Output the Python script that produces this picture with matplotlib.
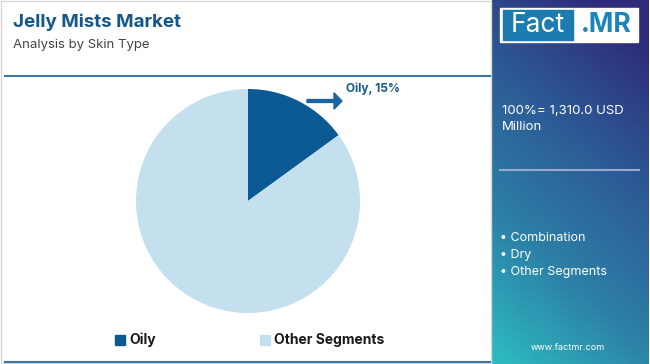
#!/usr/bin/env python
"""
Jelly Mists Market - share by skin type (pie) with Fact.MR side panel
"""

import numpy as np
import matplotlib.pyplot as plt
from matplotlib.colors import LinearSegmentedColormap
from matplotlib.patches import Rectangle, FancyArrow

plt.rcParams['font.family'] = ['Inter', 'DejaVu Sans']

# data
segments = ["Oily", "Other Segments"]
shares = [15, 85]
seg_colors = ["#0b5a94", "#c4e0ef"]
total_text = "100%= 1,310.0 USD\nMillion"
other_list = ["Combination", "Dry", "Other Segments"]

TITLE = "Jelly Mists Market"
SUBTITLE = "Analysis by Skin Type"
W, H = 650, 364


def fx(px):
    return px / W


def fy(py):
    return 1 - py / H


fig = plt.figure(figsize=(6.5, 3.64), dpi=100)
fig.patch.set_facecolor("white")

# left panel frame
fig.patches.append(Rectangle((fx(1), fy(363)), fx(490), 362 / H,
                             transform=fig.transFigure, fill=False,
                             edgecolor="#d8d8d8", linewidth=1))

# header
fig.text(fx(13), fy(22), TITLE, fontsize=13.5, fontweight="bold",
         color="#14588a", va="center")
fig.text(fx(13), fy(45), SUBTITLE, fontsize=9.5, color="#444444",
         va="center")
fig.lines.append(plt.Line2D([fx(5), fx(490)], [fy(76), fy(76)],
                            transform=fig.transFigure, color="#3a78a8",
                            linewidth=1.5))
fig.lines.append(plt.Line2D([fx(5), fx(490)], [fy(362), fy(362)],
                            transform=fig.transFigure, color="#3a78a8",
                            linewidth=1.5))

# pie
ax = fig.add_axes([fx(248 - 112), fy(201 + 112), 224 / W, 224 / H])
ax.pie(shares, colors=seg_colors, startangle=90, counterclock=False,
       radius=1.0)
ax.set_aspect("equal")
ax.set_xlim(-1.0, 1.0)
ax.set_ylim(-1.0, 1.0)
ax.axis("off")

# callout
fig.patches.append(FancyArrow(fx(307), fy(101), fx(27), 0,
                              width=0.008, head_width=0.045,
                              head_length=fx(8), length_includes_head=False,
                              transform=fig.transFigure, color="#1a64a0"))
fig.text(fx(346), fy(89), "{}, {}%".format(segments[0], shares[0]),
         fontsize=8.5, fontweight="bold", color="#14588a", va="center")

# legend
leg_x = [115, 260]
for x, name, c in zip(leg_x, segments, seg_colors):
    fig.patches.append(Rectangle((fx(x), fy(345)), fx(10), 10 / H,
                                 transform=fig.transFigure, color=c))
    fig.text(fx(x + 14), fy(340), name, fontsize=10, fontweight="bold",
             color="#1a1a1a", va="center")

# right gradient panel (teal bottom-left -> indigo top-right)
cmap = LinearSegmentedColormap.from_list(
    "fm", ["#2cbcc2", "#2d80a6", "#2c5a96", "#2e2c7a"])
gx, gy = np.meshgrid(np.linspace(0, 1, 100), np.linspace(0, 1, 200))
grad = np.clip(0.3 * gx + 0.8 * (1 - gy), 0, 1)
pax = fig.add_axes([fx(492), 0, fx(157), 1])
pax.imshow(grad, cmap=cmap, aspect="auto", origin="upper",
           extent=[0, 1, 0, 1])
pax.axis("off")

# logo
fig.patches.append(Rectangle((fx(500), fy(42)), fx(138), 34 / H,
                             transform=fig.transFigure, color="white",
                             zorder=5))
fig.patches.append(Rectangle((fx(503), fy(40)), fx(70), 30 / H,
                             transform=fig.transFigure, color="#1c7bb0",
                             zorder=6))
fig.text(fx(538), fy(25), "Fact", fontsize=19, color="white",
         ha="center", va="center", zorder=7)
fig.text(fx(606), fy(25), ".MR", fontsize=19, fontweight="bold",
         color="#1c86bc", ha="center", va="center", zorder=7)

fig.text(fx(502), fy(119), total_text, fontsize=9.5, color="white",
         va="center", linespacing=1.5)
fig.lines.append(plt.Line2D([fx(500), fx(639)], [fy(170), fy(170)],
                            transform=fig.transFigure, color="#9aa8d0",
                            linewidth=1.5))
for i, name in enumerate(other_list):
    fig.text(fx(500), fy(238 + 17 * i), "\u2022 " + name, fontsize=9,
             color="white", va="center")
fig.text(fx(568), fy(348), "www.factmr.com", fontsize=6.5, color="white",
         ha="center", va="center")

fig.savefig("out.png", dpi=100)
